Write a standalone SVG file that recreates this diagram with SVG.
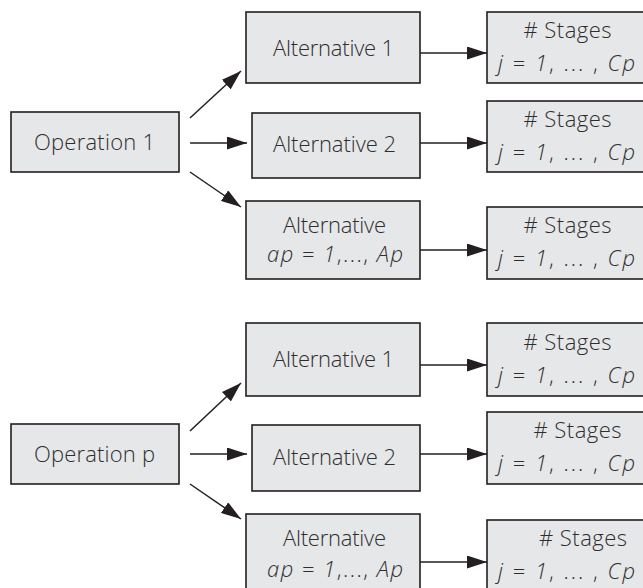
<svg xmlns="http://www.w3.org/2000/svg" width="643" height="588" viewBox="0 0 643 588">
<defs>
<style>
.box{fill:#e6e7e8;stroke:#231f20;stroke-width:1.6}
.t{font-family:"Open Sans","Liberation Sans",sans-serif;font-weight:300;font-size:22px;fill:#2e2e2e;text-anchor:middle}
.i{font-style:italic}
.c{stroke:#231f20;stroke-width:1.5;fill:none;marker-end:url(#ah)}
</style>
<marker id="ah" markerUnits="userSpaceOnUse" markerWidth="20" markerHeight="13" refX="20" refY="6.5" orient="auto">
<path d="M0,0 L20,6.5 L0,13 Z" fill="#231f20"/>
</marker>
</defs>
<rect width="643" height="588" fill="#ffffff"/>
<g id="connectors">
<line class="c" x1="190" y1="118" x2="241" y2="71"/>
<line class="c" x1="190" y1="143" x2="247" y2="143"/>
<line class="c" x1="190" y1="172" x2="241" y2="207"/>
<line class="c" x1="420" y1="53" x2="487" y2="53"/>
<line class="c" x1="420" y1="143" x2="487" y2="143"/>
<line class="c" x1="420" y1="250" x2="487" y2="250"/>
<line class="c" x1="190" y1="431" x2="241" y2="383"/>
<line class="c" x1="190" y1="454" x2="247" y2="454"/>
<line class="c" x1="190" y1="484" x2="241" y2="519"/>
<line class="c" x1="420" y1="365" x2="487" y2="365"/>
<line class="c" x1="420" y1="454" x2="487" y2="454"/>
<line class="c" x1="420" y1="562" x2="487" y2="562"/>
</g>
<g id="op1"><rect class="box" x="11" y="112" width="168" height="60"/><text class="t" x="94.5" y="149.5" textLength="121">Operation 1</text></g>
<g id="alt1a"><rect class="box" x="246" y="12" width="174" height="71"/><text class="t" x="333.5" y="56" textLength="121">Alternative 1</text></g>
<g id="alt2a"><rect class="box" x="252" y="113" width="168" height="65"/><text class="t" x="334.5" y="152" textLength="123">Alternative 2</text></g>
<g id="altApA"><rect class="box" x="246" y="201" width="174" height="78"/><text class="t" x="334.5" y="233" textLength="103">Alternative</text><text class="t" x="335" y="262" textLength="136"><tspan class="i">ap</tspan> = <tspan class="i">1</tspan>,..., <tspan class="i">Ap</tspan></text></g>
<g id="st1a"><rect class="box" x="487" y="12" width="160" height="71"/><text class="t" x="567.5" y="37.5" textLength="88"># Stages</text><text class="t" x="566.5" y="71" textLength="137"><tspan class="i">j</tspan> = <tspan class="i">1</tspan>, ... , <tspan class="i">Cp</tspan></text></g>
<g id="st2a"><rect class="box" x="487" y="101" width="160" height="71"/><text class="t" x="567.5" y="126.5" textLength="88"># Stages</text><text class="t" x="566.5" y="159.5" textLength="137"><tspan class="i">j</tspan> = <tspan class="i">1</tspan>, ... , <tspan class="i">Cp</tspan></text></g>
<g id="st3a"><rect class="box" x="487" y="207" width="160" height="72"/><text class="t" x="567.5" y="233" textLength="88"># Stages</text><text class="t" x="566.5" y="266" textLength="137"><tspan class="i">j</tspan> = <tspan class="i">1</tspan>, ... , <tspan class="i">Cp</tspan></text></g>
<g id="opP"><rect class="box" x="11" y="424" width="168" height="60"/><text class="t" x="94.5" y="461.5" textLength="121">Operation p</text></g>
<g id="alt1b"><rect class="box" x="246" y="323" width="174" height="73"/><text class="t" x="333.5" y="367" textLength="121">Alternative 1</text></g>
<g id="alt2b"><rect class="box" x="252" y="425" width="168" height="66"/><text class="t" x="334.5" y="465" textLength="123">Alternative 2</text></g>
<g id="altApB"><rect class="box" x="246" y="514" width="174" height="78"/><text class="t" x="334.5" y="546" textLength="103">Alternative</text><text class="t" x="335" y="577" textLength="136"><tspan class="i">ap</tspan> = <tspan class="i">1</tspan>,..., <tspan class="i">Ap</tspan></text></g>
<g id="st1b"><rect class="box" x="487" y="323" width="160" height="73"/><text class="t" x="567.5" y="350" textLength="88"># Stages</text><text class="t" x="566.5" y="383" textLength="137"><tspan class="i">j</tspan> = <tspan class="i">1</tspan>, ... , <tspan class="i">Cp</tspan></text></g>
<g id="st2b"><rect class="box" x="487" y="412" width="160" height="72"/><text class="t" x="577.5" y="438" textLength="88"># Stages</text><text class="t" x="566.5" y="471" textLength="137"><tspan class="i">j</tspan> = <tspan class="i">1</tspan>, ... , <tspan class="i">Cp</tspan></text></g>
<g id="st3b"><rect class="box" x="487" y="520" width="160" height="72"/><text class="t" x="583" y="546" textLength="88"># Stages</text><text class="t" x="566.5" y="579" textLength="137"><tspan class="i">j</tspan> = <tspan class="i">1</tspan>, ... , <tspan class="i">Cp</tspan></text></g>
</svg>
